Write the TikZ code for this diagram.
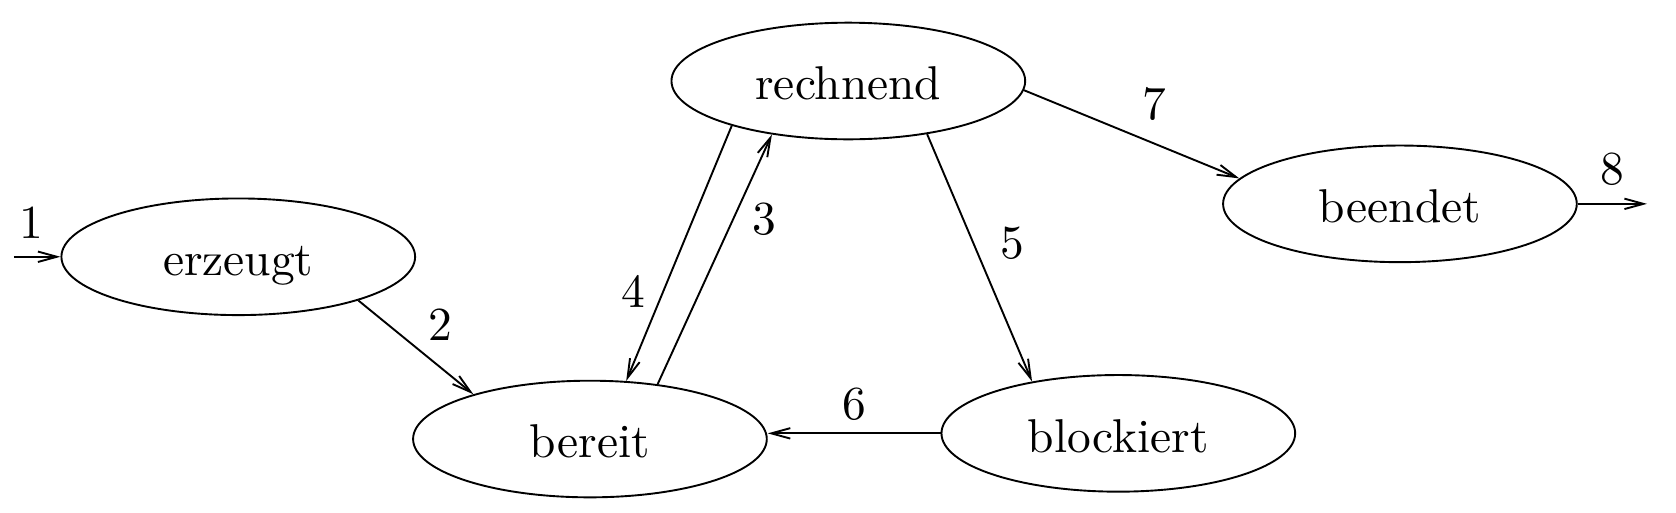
\documentclass[tikz,border=0pt]{standalone}
\usetikzlibrary{arrows.meta,shapes.geometric,positioning}

\tikzset{
  zustand/.style={draw,ellipse,inner sep=0pt,minimum width=2.62cm,minimum height=0.864cm,
    text height=8pt,text depth=0pt},
  nr/.style={inner sep=2.5pt}
}

\begin{document}
\begin{tikzpicture}[>={Straight Barb[length=4pt,width=2.2pt]}]
  \useasboundingbox (0,0) rectangle (12.415,3.793);

   \draw (1.765,1.891) node[zustand] (erzeugt) {erzeugt};
   \draw (4.370,0.541) node[zustand] (bereit) {bereit};
   \draw (6.284,3.193) node[zustand] (rechnend) {rechnend};
   \draw (8.284,0.583) node[zustand] (blockiert) {blockiert};
   \draw (10.370,2.283) node[zustand] (beendet) {beendet};
   \coordinate[left=0.346cm of erzeugt] (anfang);
   \coordinate[right=0.513cm of beendet] (ende);

    \path[->] (anfang) edge node[nr,above=1.2pt,pos=.37] {1} (erzeugt);
    \path[->] (erzeugt.-20) edge node[nr,above right=-1pt,pos=.53] {2} (bereit.159);
    \path[->] (bereit.39) edge node[nr,right=1.5pt,pos=.66] {3} (rechnend.215);
    \path[->] (rechnend.201) edge node[nr,left=1pt,pos=.65] {4} (bereit.58);
    \path[->] (rechnend.-34) edge node[nr,right=3pt,pos=.44] {5} (blockiert.149);
    \path[->] (blockiert.west) edge node[nr,above] {6} (blockiert.west -| bereit.east);
    \path[->] (rechnend.-3) edge node[nr,above right,pos=.49] {7} (beendet.171);
    \path[->] (beendet) edge node[nr,above=1.2pt] {8} (ende);

\end{tikzpicture}
\end{document}
